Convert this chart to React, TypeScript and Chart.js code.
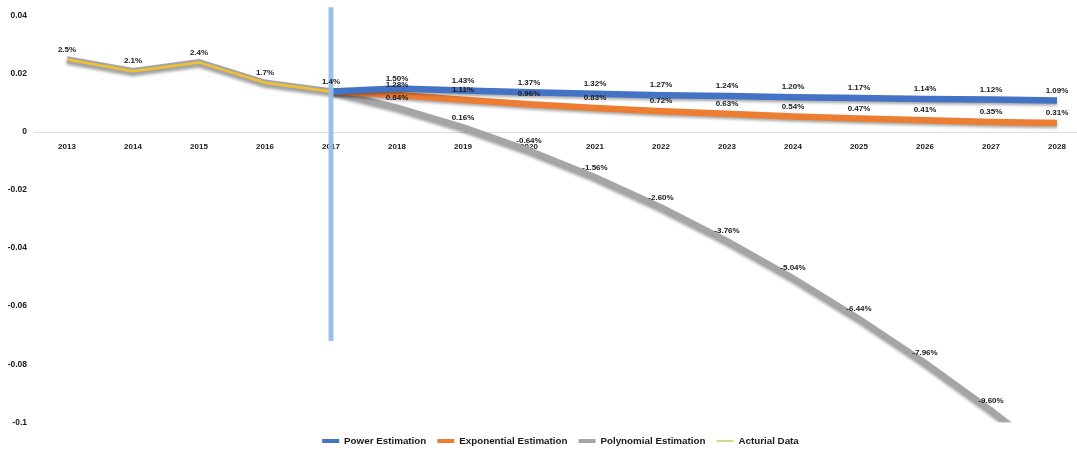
import React, { useEffect, useRef } from "react";
import { Chart, registerables } from "chart.js";

Chart.register(...registerables);

// Years on the horizontal axis
const years = ["2013", "2014", "2015", "2016", "2017", "2018", "2019", "2020", "2021", "2022", "2023", "2024", "2025", "2026", "2027", "2028"];

// Observed growth 2013-2017
const acturialData = [0.025, 0.021, 0.024, 0.017, 0.014, null, null, null, null, null, null, null, null, null, null, null];

// Trend estimations from 2017 onwards
const powerEstimation = [null, null, null, null, 0.014, 0.015, 0.0143, 0.0137, 0.0132, 0.0127, 0.0124, 0.012, 0.0117, 0.0114, 0.0112, 0.0109];
const exponentialEstimation = [null, null, null, null, 0.014, 0.0128, 0.0111, 0.0096, 0.0083, 0.0072, 0.0063, 0.0054, 0.0047, 0.0041, 0.0035, 0.0031];
const polynomialEstimation = [0.025, 0.021, 0.024, 0.017, 0.014, 0.0084, 0.0016, -0.0064, -0.0156, -0.026, -0.0376, -0.0504, -0.0644, -0.0796, -0.096, -0.1136];

// Marker separating history from forecast
const splitYear = "2017";
const splitRange = [0.043, -0.072];

// Y axis range and step
const yMin = -0.1;
const yMax = 0.04;
const yStep = 0.02;

const FONT = "'Liberation Sans', Arial, sans-serif";

// Writes the percentage value above each labelled point
const valueLabels = {
  id: "valueLabels",
  afterDatasetsDraw(chart: any) {
    const { ctx, chartArea } = chart;
    ctx.save();
    ctx.font = `bold 8px ${FONT}`;
    ctx.fillStyle = "#1a1a1a";
    ctx.textAlign = "center";
    ctx.textBaseline = "middle";
    chart.data.datasets.forEach((ds: any, di: number) => {
      if (ds.labelDigits === undefined) return;
      const meta = chart.getDatasetMeta(di);
      ds.data.forEach((v: any, i: number) => {
        if (v === null || i < ds.labelFrom) return;
        const pt = meta.data[i];
        if (!pt || pt.y > chartArea.bottom || pt.y < chartArea.top) return;
        ctx.fillText((v * 100).toFixed(ds.labelDigits) + "%", pt.x, pt.y - 10);
      });
    });
    ctx.restore();
  },
};

// Soft drop shadow under the thick trend lines
const lineShadow = {
  id: "lineShadow",
  beforeDatasetDraw(chart: any, args: any) {
    const ds = chart.data.datasets[args.index];
    chart.ctx.save();
    if (ds.shadow) {
      chart.ctx.shadowColor = "rgba(0,0,0,0.35)";
      chart.ctx.shadowBlur = 3;
      chart.ctx.shadowOffsetY = 2;
    }
  },
  afterDatasetDraw(chart: any) {
    chart.ctx.restore();
  },
};

// Lets the plot run past the right edge of the canvas and nudges the legend
const plotExtent = {
  id: "plotExtent",
  afterLayout(chart: any) {
    const x = chart.scales.x;
    const extra = 13;
    x.right += extra;
    x.width += extra;
    x.configure();
    chart.chartArea.right += extra;
    const lg = chart.legend;
    if (lg) {
      lg.left += 22;
      lg.right += 22;
      lg.top += 3;
      lg.bottom += 3;
    }
  },
};

export default function App() {
  const canvasRef = useRef<HTMLCanvasElement | null>(null);

  useEffect(() => {
    document.body.style.margin = "0";
    const canvas = canvasRef.current;
    if (!canvas) return;

    const chart = new Chart(canvas, {
      type: "line",
      data: {
        labels: years,
        datasets: [
          {
            label: "Power Estimation",
            data: powerEstimation,
            borderColor: "#4472c4",
            backgroundColor: "#4472c4",
            borderWidth: 6.5,
            pointRadius: 0,
            order: 1,
            shadow: true,
            labelDigits: 2,
            labelFrom: 5,
          } as any,
          {
            label: "Exponential Estimation",
            data: exponentialEstimation,
            borderColor: "#ed7d31",
            backgroundColor: "#ed7d31",
            borderWidth: 6.5,
            pointRadius: 0,
            order: 2,
            shadow: true,
            labelDigits: 2,
            labelFrom: 5,
          } as any,
          {
            label: "Polynomial Estimation",
            data: polynomialEstimation,
            borderColor: "#a5a5a5",
            backgroundColor: "#a5a5a5",
            borderWidth: 6.5,
            pointRadius: 0,
            order: 3,
            shadow: true,
            labelDigits: 2,
            labelFrom: 5,
          } as any,
          {
            label: "Acturial Data",
            data: acturialData,
            borderColor: "#f2c12e",
            backgroundColor: "#c5d86d",
            borderWidth: 2.5,
            pointRadius: 0,
            order: 0,
            labelDigits: 1,
            labelFrom: 0,
          } as any,
          {
            label: "split",
            data: [
              { x: splitYear, y: splitRange[0] },
              { x: splitYear, y: splitRange[1] },
            ],
            borderColor: "rgba(150,190,232,0.95)",
            borderWidth: 5,
            pointRadius: 0,
            clip: false,
            order: -1,
          } as any,
        ],
      },
      options: {
        animation: false,
        responsive: true,
        maintainAspectRatio: false,
        layout: { padding: { top: 16, right: 0, left: 0, bottom: 0 } },
        plugins: {
          tooltip: { enabled: false },
          legend: {
            position: "bottom",
            labels: {
              font: { family: FONT, size: 9.8, weight: "bold" },
              color: "#1a1a1a",
              usePointStyle: true,
              pointStyleWidth: 17,
              boxHeight: 9,
              padding: 11,
              filter: (item: any) => item.datasetIndex !== 4,
              sort: (a: any, b: any) => a.datasetIndex - b.datasetIndex,
              generateLabels: (chart: any) => {
                const items = Chart.defaults.plugins.legend.labels.generateLabels(chart);
                return items.map((it: any) => ({
                  ...it,
                  pointStyle: "line",
                  lineWidth: it.datasetIndex === 3 ? 1.5 : 4,
                  strokeStyle: it.datasetIndex === 3 ? "#b5d65a" : it.strokeStyle,
                }));
              },
            },
          },
        },
        scales: {
          x: {
            position: { y: 0 } as any,
            offset: true,
            grid: { display: false, drawTicks: false },
            border: { display: true, color: "#dcdcdc", width: 1 },
            ticks: {
              font: { family: FONT, size: 8, weight: "bold" },
              color: "#1a1a1a",
              padding: 10,
              maxRotation: 0,
              autoSkip: false,
            },
          },
          y: {
            min: yMin,
            max: yMax,
            grid: { display: false, drawTicks: false },
            border: { display: false },
            ticks: {
              stepSize: yStep,
              font: { family: FONT, size: 8.5, weight: "bold" },
              color: "#1a1a1a",
              padding: 7,
              callback: (v: any) => String(Math.round(Number(v) * 100) / 100),
            },
            afterFit: (scale: any) => {
              scale.width = 34;
            },
          },
        },
      },
      plugins: [valueLabels, lineShadow, plotExtent],
    });

    return () => chart.destroy();
  }, []);

  return (
    <div style={{ width: 1077, height: 453, position: "relative", background: "#fff" }}>
      <canvas ref={canvasRef} />
    </div>
  );
}
